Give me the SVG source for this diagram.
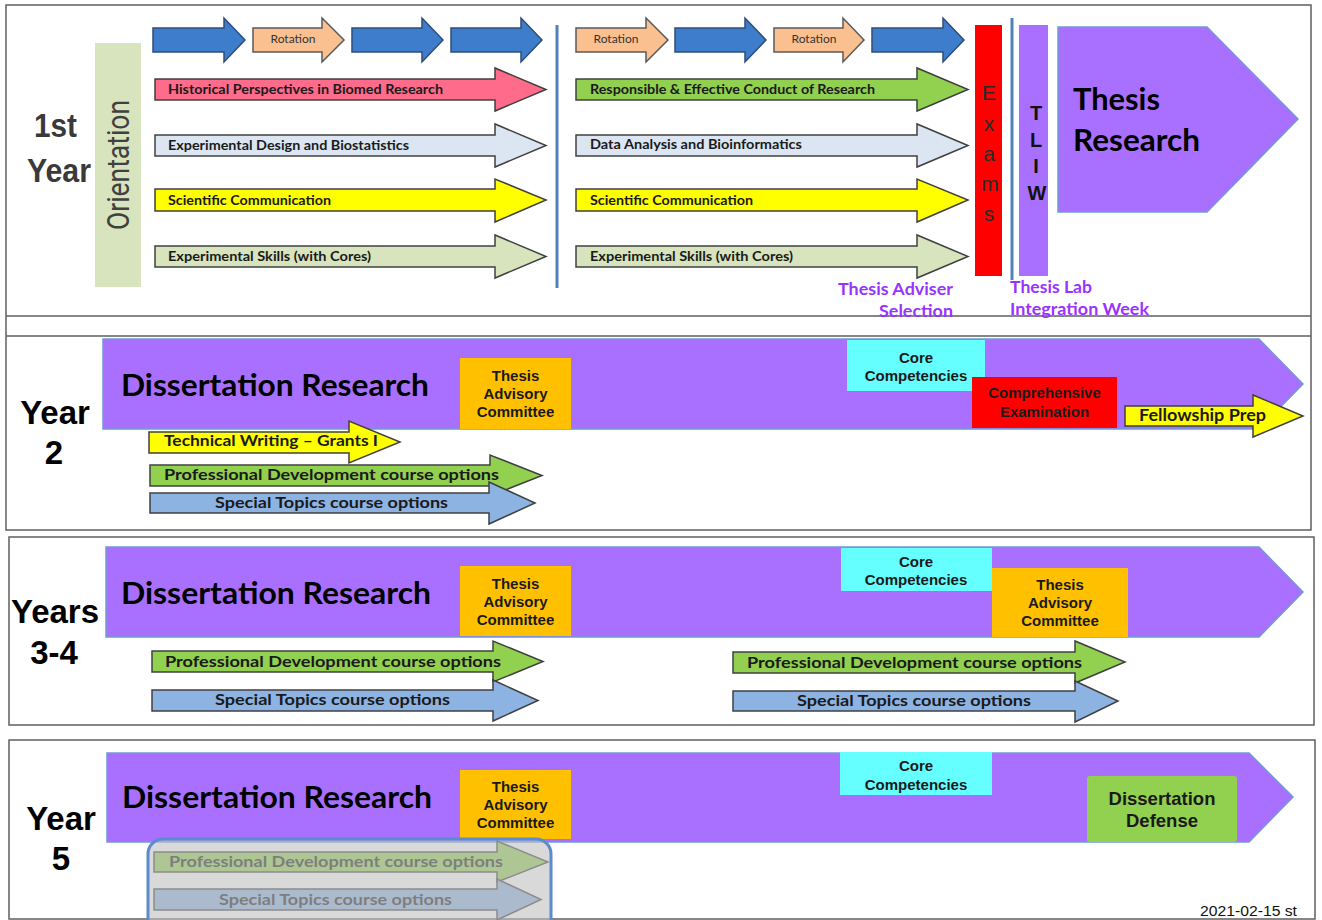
<svg xmlns="http://www.w3.org/2000/svg" width="1322" height="920" viewBox="0 0 1322 920">
<style>
.frame{fill:none;stroke:#5f5f5f;stroke-width:1.5}
.arr{stroke:#404040;stroke-width:1.5;stroke-linejoin:miter}
.blue{fill:#3d7dcc;stroke:#2c4d78;stroke-width:1.5}
.orange{fill:#fac090;stroke:#595959;stroke-width:1.5}
.pink{fill:#ff6b8a}.lblue{fill:#dce6f2}.yellow{fill:#ffff00}.lgreen{fill:#d7e4bd}.green{fill:#92d050}.sblue{fill:#8db3e2}
.purple{fill:#a970ff;stroke:#6f9ad6;stroke-width:1.5}
.sep{stroke:#4f81bd;stroke-width:3}
.cal{font-family:"Lato","Liberation Sans",sans-serif;font-weight:700;fill:#1a1a1a}
.c12{font-size:12.5px}.c16{font-size:16px}
.ar{font-family:"Liberation Sans",Arial,sans-serif;font-weight:700;fill:#1a1a1a;text-anchor:middle}
.ar15{font-size:15px}
.yr{font-family:"Liberation Sans",Arial,sans-serif;font-weight:700;font-size:33px;fill:#000;text-anchor:middle}
.dr{font-family:"Lato","Liberation Sans",sans-serif;font-weight:700;font-size:30px;fill:#000}
.pl{font-family:"Lato","Liberation Sans",sans-serif;font-weight:700;font-size:17px;fill:#9933ff}
.rot{font-family:"Lato","Liberation Sans",sans-serif;font-size:12px;fill:#333;text-anchor:middle}
</style>

<g id="frames">
<rect class="frame" x="6" y="5" width="1305" height="525"/>
<line class="frame" x1="6" y1="316" x2="1311" y2="316"/>
<line class="frame" x1="6" y1="336" x2="1311" y2="336"/>
<rect class="frame" x="9" y="537" width="1305" height="188"/>
<rect class="frame" x="9" y="740" width="1306" height="179"/>
</g>

<g id="year1">
<g id="label-1st-year">
<text x="34" y="137" font-family="Liberation Sans, Arial, sans-serif" font-weight="700" font-size="33" fill="#3a3a3a" textLength="43" lengthAdjust="spacingAndGlyphs">1st</text>
<text x="27" y="182" font-family="Liberation Sans, Arial, sans-serif" font-weight="700" font-size="33" fill="#3a3a3a" textLength="64" lengthAdjust="spacingAndGlyphs">Year</text>
</g>
<g id="orientation">
<rect x="95" y="43" width="46" height="244" fill="#d7e4bd"/>
<text transform="translate(129,165) rotate(-90)" text-anchor="middle" font-family="Roboto, Liberation Sans, sans-serif" font-size="31" fill="#404040" textLength="130" lengthAdjust="spacingAndGlyphs">Orientation</text>
</g>
<g id="rotations">
<polygon class="blue" points="153,28 224,28 224,18 245,40 224,62 224,52 153,52"/>
<polygon class="orange" points="253,28 322,28 322,18 344,40 322,62 322,52 253,52"/>
<text class="rot" x="293" y="43">Rotation</text>
<polygon class="blue" points="352,28 422,28 422,18 443,40 422,62 422,52 352,52"/>
<polygon class="blue" points="451,28 521,28 521,18 542,40 521,62 521,52 451,52"/>
<polygon class="orange" points="576,28 646,28 646,18 668,40 646,62 646,52 576,52"/>
<text class="rot" x="616" y="43">Rotation</text>
<polygon class="blue" points="675,28 745,28 745,18 766,40 745,62 745,52 675,52"/>
<polygon class="orange" points="774,28 843,28 843,18 864,40 843,62 843,52 774,52"/>
<text class="rot" x="814" y="43">Rotation</text>
<polygon class="blue" points="872,28 943,28 943,18 964,40 943,62 943,52 872,52"/>
</g>
<g id="courses-fall">
<polygon class="arr pink" points="155,79 495,79 495,68 546,89.5 495,111 495,100 155,100"/>
<text class="cal c12" x="168" y="94" textLength="275" lengthAdjust="spacingAndGlyphs">Historical Perspectives in Biomed Research</text>
<polygon class="arr lblue" points="155,135 495,135 495,124 546,145.5 495,167 495,156 155,156"/>
<text class="cal c12" x="168" y="150" textLength="241" lengthAdjust="spacingAndGlyphs">Experimental Design and Biostatistics</text>
<polygon class="arr yellow" points="155,189 495,189 495,179 546,200 495,222 495,211 155,211"/>
<text class="cal c12" x="168" y="205" textLength="163" lengthAdjust="spacingAndGlyphs">Scientific Communication</text>
<polygon class="arr lgreen" points="155,246 495,246 495,235 546,256.5 495,278 495,267 155,267"/>
<text class="cal c12" x="168" y="261" textLength="203" lengthAdjust="spacingAndGlyphs">Experimental Skills (with Cores)</text>
</g>
<line id="sep-semester" class="sep" x1="557" y1="25" x2="557" y2="288"/>
<g id="courses-spring">
<polygon class="arr green" points="576,79 917,79 917,68 968,89.5 917,111 917,100 576,100"/>
<text class="cal c12" x="590" y="94" textLength="285" lengthAdjust="spacingAndGlyphs">Responsible &amp; Effective Conduct of Research</text>
<polygon class="arr lblue" points="576,135 917,135 917,124 968,145.5 917,167 917,156 576,156"/>
<text class="cal c12" x="590" y="149" textLength="212" lengthAdjust="spacingAndGlyphs">Data Analysis and Bioinformatics</text>
<polygon class="arr yellow" points="576,189 917,189 917,179 968,200 917,222 917,211 576,211"/>
<text class="cal c12" x="590" y="205" textLength="163" lengthAdjust="spacingAndGlyphs">Scientific Communication</text>
<polygon class="arr lgreen" points="576,246 917,246 917,235 968,256.5 917,278 917,267 576,267"/>
<text class="cal c12" x="590" y="261" textLength="203" lengthAdjust="spacingAndGlyphs">Experimental Skills (with Cores)</text>
</g>
<g id="exams">
<rect x="975" y="25" width="27" height="251" fill="#ff0000"/>
<g font-family="Liberation Sans, Arial, sans-serif" font-size="21" fill="#2a2a2a" text-anchor="middle">
<text x="989" y="100">E</text><text x="989" y="131">x</text><text x="989" y="161">a</text><text x="990" y="191">m</text><text x="989" y="221">s</text>
</g>
</g>
<line id="sep-tliw" class="sep" x1="1012" y1="18" x2="1012" y2="280"/>
<g id="tliw">
<rect x="1019" y="25" width="29" height="251" fill="#a970ff"/>
<g font-family="Liberation Sans, Arial, sans-serif" font-weight="700" font-size="20" fill="#111" text-anchor="middle">
<text x="1036" y="120">T</text><text x="1036" y="147">L</text><text x="1036" y="173">I</text><text x="1037" y="200">W</text>
</g>
</g>
<g id="thesis-research">
<polygon class="purple" points="1058,27 1207,27 1298,119 1207,212 1058,212"/>
<text class="dr" x="1073" y="110" textLength="87" lengthAdjust="spacingAndGlyphs">Thesis</text>
<text class="dr" x="1073" y="151" textLength="127" lengthAdjust="spacingAndGlyphs">Research</text>
</g>
<g id="thesis-adviser-selection">
<text class="pl" x="953" y="295" text-anchor="end" textLength="115" lengthAdjust="spacingAndGlyphs">Thesis Adviser</text>
<text class="pl" x="953" y="317" text-anchor="end" textLength="74" lengthAdjust="spacingAndGlyphs">Selection</text>
</g>
<g id="thesis-lab-integration-week">
<text class="pl" x="1010" y="293" textLength="82" lengthAdjust="spacingAndGlyphs">Thesis Lab</text>
<text class="pl" x="1010" y="315" textLength="139" lengthAdjust="spacingAndGlyphs">Integration Week</text>
</g>
</g>

<g id="year2">
<g id="label-year2"><text class="yr" x="55" y="424">Year</text><text class="yr" x="54" y="464">2</text></g>
<g id="dissertation-research-y2">
<polygon class="purple" points="103,339 1259,339 1303,384 1259,429 103,429"/>
<text class="dr" x="121" y="396" textLength="308" lengthAdjust="spacingAndGlyphs">Dissertation Research</text>
</g>
<g id="tac-y2">
<rect x="460" y="358" width="111" height="71" fill="#ffc000"/>
<text class="ar ar15" x="515.5" y="381">Thesis</text><text class="ar ar15" x="515.5" y="399">Advisory</text><text class="ar ar15" x="515.5" y="417">Committee</text>
</g>
<g id="core-y2">
<rect x="847" y="340" width="138" height="51" fill="#66ffff"/>
<text class="ar ar15" x="916" y="363">Core</text><text class="ar ar15" x="916" y="381">Competencies</text>
</g>
<g id="comprehensive-exam">
<rect x="972" y="377" width="145" height="51" fill="#ff0000"/>
<text class="ar ar15" x="1044.5" y="398">Comprehensive</text><text class="ar ar15" x="1044.5" y="417">Examination</text>
</g>
<g id="fellowship-prep">
<polygon class="arr yellow" points="1125,406 1253,406 1253,395 1303,416 1253,437 1253,426 1125,426"/>
<text class="cal" font-size="17" x="1139" y="421" textLength="127" lengthAdjust="spacingAndGlyphs">Fellowship Prep</text>
</g>
<g id="courses-y2">
<polygon class="arr yellow" points="149,432 349,432 349,421 400,442 349,463 349,453 149,453"/>
<text class="cal c16" x="164" y="446" textLength="214" lengthAdjust="spacingAndGlyphs">Technical Writing – Grants I</text>
<polygon class="arr green" points="150,465 490,465 490,455 542,475.5 490,496 490,486 150,486"/>
<text class="cal c16" x="164" y="480" textLength="335" lengthAdjust="spacingAndGlyphs">Professional Development course options</text>
<polygon class="arr sblue" points="150,493 489,493 489,482 535,503 489,524 489,513 150,513"/>
<text class="cal c16" x="215" y="508" textLength="233" lengthAdjust="spacingAndGlyphs">Special Topics course options</text>
</g>
</g>

<g id="year3-4">
<g id="label-years34"><text class="yr" x="55" y="623">Years</text><text class="yr" x="54" y="664">3-4</text></g>
<g id="dissertation-research-y34">
<polygon class="purple" points="106,547 1259,547 1303,592 1259,637 106,637"/>
<text class="dr" x="121" y="604" textLength="310" lengthAdjust="spacingAndGlyphs">Dissertation Research</text>
</g>
<g id="tac-y34a">
<rect x="460" y="566" width="111" height="70" fill="#ffc000"/>
<text class="ar ar15" x="515.5" y="589">Thesis</text><text class="ar ar15" x="515.5" y="607">Advisory</text><text class="ar ar15" x="515.5" y="625">Committee</text>
</g>
<g id="core-y34">
<rect x="841" y="548" width="151" height="43" fill="#66ffff"/>
<text class="ar ar15" x="916" y="567" font-weight="400" fill="#333">Core</text><text class="ar ar15" x="916" y="585" font-weight="400" fill="#333">Competencies</text>
</g>
<g id="tac-y34b">
<rect x="992" y="568" width="136" height="69" fill="#ffc000"/>
<text class="ar ar15" x="1060" y="590">Thesis</text><text class="ar ar15" x="1060" y="608">Advisory</text><text class="ar ar15" x="1060" y="626">Committee</text>
</g>
<g id="courses-y34-left">
<polygon class="arr green" points="152,651 493,651 493,641 543,661.5 493,682 493,672 152,672"/>
<text class="cal c16" x="165" y="667" textLength="336" lengthAdjust="spacingAndGlyphs">Professional Development course options</text>
<polygon class="arr sblue" points="152,690 493,690 493,680 538,700.5 493,721 493,711 152,711"/>
<text class="cal c16" x="215" y="705" textLength="235" lengthAdjust="spacingAndGlyphs">Special Topics course options</text>
</g>
<g id="courses-y34-right">
<polygon class="arr green" points="733,652 1075,652 1075,641 1125,662 1075,683 1075,673 733,673"/>
<text class="cal c16" x="747" y="668" textLength="335" lengthAdjust="spacingAndGlyphs">Professional Development course options</text>
<polygon class="arr sblue" points="733,691 1075,691 1075,681 1118,701 1075,722 1075,711 733,711"/>
<text class="cal c16" x="797" y="706" textLength="234" lengthAdjust="spacingAndGlyphs">Special Topics course options</text>
</g>
</g>

<g id="year5">
<g id="label-year5"><text class="yr" x="61" y="830">Year</text><text class="yr" x="61" y="870">5</text></g>
<g id="dissertation-research-y5">
<polygon class="purple" points="107,753 1249,753 1293,797 1249,842 107,842"/>
<text class="dr" x="122" y="808" textLength="310" lengthAdjust="spacingAndGlyphs">Dissertation Research</text>
</g>
<g id="tac-y5">
<rect x="460" y="770" width="111" height="69" fill="#ffc000"/>
<text class="ar ar15" x="515.5" y="792">Thesis</text><text class="ar ar15" x="515.5" y="810">Advisory</text><text class="ar ar15" x="515.5" y="828">Committee</text>
</g>
<g id="core-y5">
<rect x="840" y="752" width="152" height="43" fill="#66ffff"/>
<text class="ar ar15" x="916" y="771" font-weight="400" fill="#333">Core</text><text class="ar ar15" x="916" y="790" font-weight="400" fill="#333">Competencies</text>
</g>
<g id="dissertation-defense">
<rect x="1087" y="776" width="150" height="66" rx="3" fill="#92d050"/>
<text class="ar" font-size="18.5" x="1162" y="805">Dissertation</text><text class="ar" font-size="18.5" x="1162" y="827">Defense</text>
</g>
<g id="courses-y5">
<polygon class="arr green" points="154,852 497,852 497,841 548,862 497,882 497,872 154,872"/>
<text class="cal c16" x="169" y="867" textLength="334" lengthAdjust="spacingAndGlyphs">Professional Development course options</text>
<polygon class="arr sblue" points="154,889 497,889 497,879 541,899.5 497,920 497,910 154,910"/>
<text class="cal c16" x="219" y="905" textLength="233" lengthAdjust="spacingAndGlyphs">Special Topics course options</text>
<rect x="148" y="839" width="403" height="95" rx="15" fill="#c0c0c0" fill-opacity="0.6" stroke="#5b8ccf" stroke-width="3"/>
</g>
</g>
<text id="date" x="1200" y="916" font-family="Liberation Sans, Arial, sans-serif" font-size="14" fill="#111" textLength="97" lengthAdjust="spacingAndGlyphs">2021-02-15 st</text>
</svg>
